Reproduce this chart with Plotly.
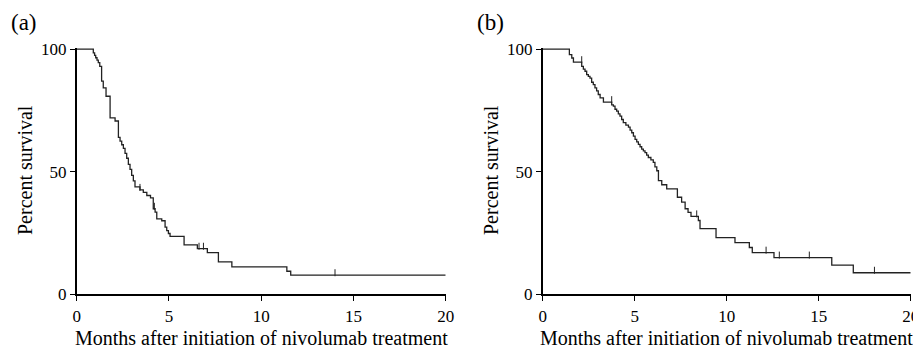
import plotly.graph_objects as go

# Panel (a) Kaplan-Meier step data
a_time = [0, 0.90, 0.97, 1.03, 1.10, 1.17, 1.25, 1.35, 1.44, 1.59, 1.81, 2.08, 2.26, 2.35, 2.44, 2.53, 2.62, 2.71, 2.80, 2.89,
          2.98, 3.07, 3.16, 3.43, 3.61, 3.80, 4.00, 4.15, 4.25, 4.34, 4.61, 4.79, 4.88, 4.97, 5.06, 5.82, 6.54, 7.08, 7.68, 8.41,
          11.39, 11.60, 20.0]
a_surv = [100, 98.5, 97.5, 96.5, 95.5, 94.5, 93.0, 87.0, 84.2, 80.8, 72.0, 70.7, 64.0, 62.5, 61.0, 59.5, 57.5, 55.5, 53.0, 51.0,
          48.5, 46.3, 43.8, 42.6, 41.6, 40.3, 39.3, 34.9, 33.5, 30.8, 30.0, 27.4, 26.0, 24.8, 23.6, 20.2, 18.6, 17.0, 13.2, 11.2,
          9.4, 7.8, 7.8]
a_cens_time = [3.43, 4.21, 6.63, 6.87, 14.0]
a_cens_surv = [42.6, 34.9, 18.6, 18.6, 7.8]

# Panel (b) Kaplan-Meier step data
b_time = [0, 1.45, 1.58, 1.67, 2.12, 2.21, 2.30, 2.39, 2.48, 2.57, 2.66, 2.75, 2.84, 2.93, 3.02, 3.12, 3.30, 3.75, 3.84, 3.93,
          4.02, 4.11, 4.20, 4.29, 4.38, 4.52, 4.66, 4.75, 4.84, 4.93, 5.02, 5.11, 5.20, 5.29, 5.38, 5.47, 5.56, 5.65, 5.74, 5.88,
          6.01, 6.10, 6.20, 6.29, 6.47, 6.74, 7.32, 7.55, 7.74, 7.90, 8.06, 8.46, 8.55, 9.42, 10.45, 11.23, 11.39, 12.57, 15.71, 16.88,
          20.0]
b_surv = [100, 97.8, 96.4, 94.7, 93.0, 91.9, 91.0, 89.6, 88.9, 88.2, 86.5, 85.5, 84.2, 83.0, 81.5, 80.1, 78.4, 77.3, 76.8, 75.5,
          74.7, 73.6, 72.7, 71.3, 70.0, 69.0, 68.2, 67.0, 65.9, 64.5, 63.2, 62.2, 61.2, 60.2, 59.2, 58.5, 57.8, 56.8, 55.8, 54.8,
          53.8, 52.0, 50.4, 46.4, 44.7, 43.0, 39.6, 37.6, 34.9, 33.4, 31.8, 30.1, 26.8, 23.1, 21.1, 19.1, 17.0, 15.0, 11.9, 8.8,
          8.8]
b_cens_time = [2.12, 3.75, 8.37, 12.14, 12.86, 14.49, 18.03]
b_cens_surv = [94.7, 78.4, 31.8, 17.0, 15.0, 15.0, 8.8]

x_ticks = [0, 5, 10, 15, 20]
y_ticks = [0, 50, 100]
panel_labels = ["(a)", "(b)"]
x_title = "Months after initiation of nivolumab treatment"
y_title = "Percent survival"

FONT = "Liberation Serif, Times New Roman, serif"
PAGE_OFF = 8          # browser default body margin
W, H = 921 - PAGE_OFF, 351 - PAGE_OFF
INK = "#222222"


def px_x(p):  # page pixel -> paper x
    return (p - PAGE_OFF) / W


def px_y(p):  # page pixel (from top) -> paper y
    return (H - (p - PAGE_OFF)) / H


fig = go.Figure()

panels = [
    (a_time, a_surv, a_cens_time, a_cens_surv, "x", "y"),
    (b_time, b_surv, b_cens_time, b_cens_surv, "x2", "y2"),
]
for t, s, ct, cs, xa, ya in panels:
    fig.add_trace(go.Scatter(x=t, y=s, mode="lines", line=dict(shape="hv", color=INK, width=1.3),
                             xaxis=xa, yaxis=ya, showlegend=False, hoverinfo="skip"))
    fig.add_trace(go.Scatter(x=ct, y=[v + 1.0 for v in cs], mode="markers",
                             marker=dict(symbol="line-ns-open", size=5, color=INK, line=dict(color=INK, width=1)),
                             xaxis=xa, yaxis=ya, showlegend=False, hoverinfo="skip", cliponaxis=False))

xdoms = [[px_x(76.7), px_x(445.7)], [px_x(542.7), px_x(910.7)]]
ydom = [px_y(294.3), px_y(47.7)]

axis_common = dict(showgrid=False, zeroline=False, showline=True, linecolor="black", linewidth=1.6,
                   ticks="outside", ticklen=5, tickwidth=1.4, tickcolor="black", automargin=False,
                   tickfont=dict(family=FONT, size=17, color="black"))

fig.update_layout(
    width=W, height=H, margin=dict(l=0, r=0, t=0, b=0),
    paper_bgcolor="white", plot_bgcolor="white",
    xaxis=dict(domain=xdoms[0], range=[0, 20], tickvals=x_ticks, anchor="y", **axis_common),
    yaxis=dict(domain=ydom, range=[0, 100.6], tickvals=y_ticks, anchor="x", **axis_common),
    xaxis2=dict(domain=xdoms[1], range=[0, 20], tickvals=x_ticks, anchor="y2", **axis_common),
    yaxis2=dict(domain=ydom, range=[0, 100.6], tickvals=y_ticks, anchor="x2", **axis_common),
)

annotations = []
for i, xd in enumerate(xdoms):
    cx = (xd[0] + xd[1]) / 2
    annotations.append(dict(text=x_title, x=cx, y=px_y(338), xref="paper", yref="paper",
                            showarrow=False, xanchor="center", yanchor="middle",
                            font=dict(family=FONT, size=20, color="black")))
    annotations.append(dict(text=y_title, x=px_x(25 + 466 * i), y=px_y(170), xref="paper", yref="paper",
                            showarrow=False, textangle=-90, xanchor="center", yanchor="middle",
                            font=dict(family=FONT, size=20, color="black")))
    annotations.append(dict(text=panel_labels[i], x=px_x(24 + 466 * i), y=px_y(22), xref="paper", yref="paper",
                            showarrow=False, xanchor="center", yanchor="middle",
                            font=dict(family=FONT, size=23, color="black")))
fig.update_layout(annotations=annotations)

fig.write_html("out.html")
